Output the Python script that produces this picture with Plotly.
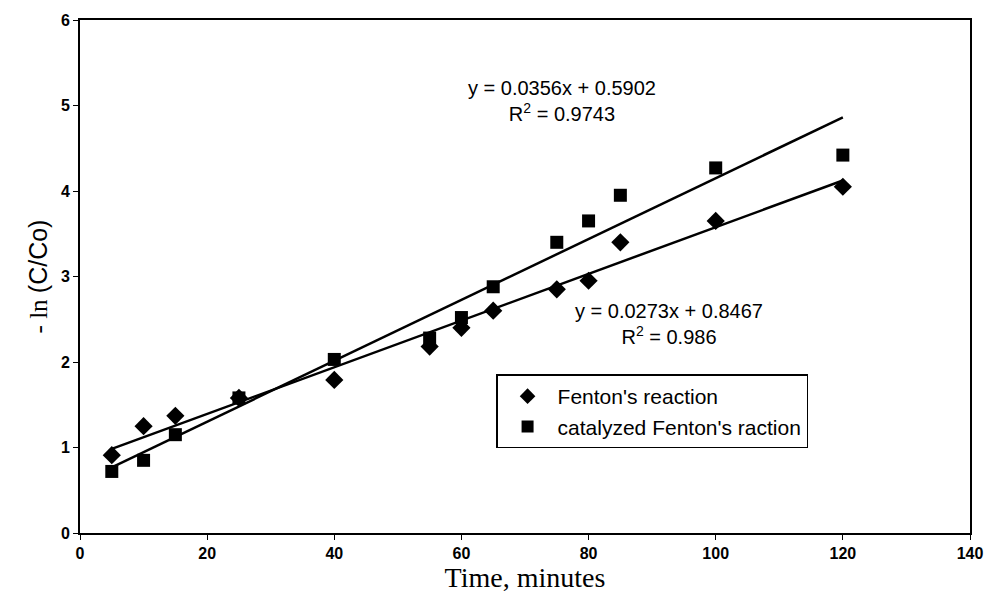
import plotly.graph_objects as go

time_min = [5, 10, 15, 25, 40, 55, 60, 65, 75, 80, 85, 100, 120]
fenton = [0.91, 1.25, 1.37, 1.58, 1.79, 2.18, 2.40, 2.60, 2.85, 2.95, 3.40, 3.65, 4.05]
catalyzed = [0.72, 0.85, 1.15, 1.58, 2.03, 2.28, 2.52, 2.88, 3.40, 3.65, 3.95, 4.27, 4.42]

fit_fenton = (0.0273, 0.8467)
fit_cat = (0.0356, 0.5902)
fit_x = [5, 120]

fig = go.Figure()
fig.add_trace(go.Scatter(x=fit_x, y=[fit_cat[0] * x + fit_cat[1] for x in fit_x], mode="lines",
                         line=dict(color="black", width=2.5), showlegend=False))
fig.add_trace(go.Scatter(x=fit_x, y=[fit_fenton[0] * x + fit_fenton[1] for x in fit_x], mode="lines",
                         line=dict(color="black", width=2.5), showlegend=False))
fig.add_trace(go.Scatter(x=time_min, y=fenton, mode="markers", name="Fenton's reaction",
                         marker=dict(symbol="diamond", size=14, color="black")))
fig.add_trace(go.Scatter(x=time_min, y=catalyzed, mode="markers", name="catalyzed Fenton's raction",
                         marker=dict(symbol="square", size=13, color="black")))

eq_font = dict(family="Liberation Sans, Arial", size=20, color="black")
fig.add_annotation(x=75.8, y=5.05, text="y = 0.0356x + 0.5902<br>R<sup>2</sup> = 0.9743", showarrow=False,
                   font=eq_font, align="center")
fig.add_annotation(x=92.6, y=2.45, text="y = 0.0273x + 0.8467<br>R<sup>2</sup> = 0.986", showarrow=False,
                   font=eq_font, align="center")

fig.update_layout(
    width=995, height=602,
    margin=dict(l=80, r=23, t=18, b=69),
    paper_bgcolor="white", plot_bgcolor="white",
    showlegend=True,
    legend=dict(x=0.4675, y=0.309, xanchor="left", yanchor="top",
                bordercolor="black", borderwidth=1.5, bgcolor="white",
                font=dict(family="Liberation Sans, Arial", size=21, color="black"),
                itemsizing="constant", itemwidth=50, tracegroupgap=0),
    xaxis=dict(range=[0, 140], dtick=20, showgrid=False, zeroline=False,
               showline=True, linecolor="black", linewidth=2, mirror=True,
               ticks="outside", ticklen=5, tickcolor="black",
               tickfont=dict(family="Liberation Sans, Arial", size=16, color="black", weight="bold"),
               title=dict(text="Time, minutes", standoff=0,
                          font=dict(family="Liberation Serif, Times New Roman", size=28, color="black"))),
    yaxis=dict(range=[0, 6], dtick=1, showgrid=False, zeroline=False,
               showline=True, linecolor="black", linewidth=2, mirror=True,
               ticks="outside", ticklen=5, tickcolor="black",
               tickfont=dict(family="Liberation Sans, Arial", size=16, color="black", weight="bold"),
               title=dict(text="- ln <span style=\"font-family:'Liberation Sans', Arial\">(C/Co)</span>", standoff=6,
                          font=dict(family="Liberation Serif, Times New Roman", size=25, color="black"))),
)

fig.write_html("out.html")
